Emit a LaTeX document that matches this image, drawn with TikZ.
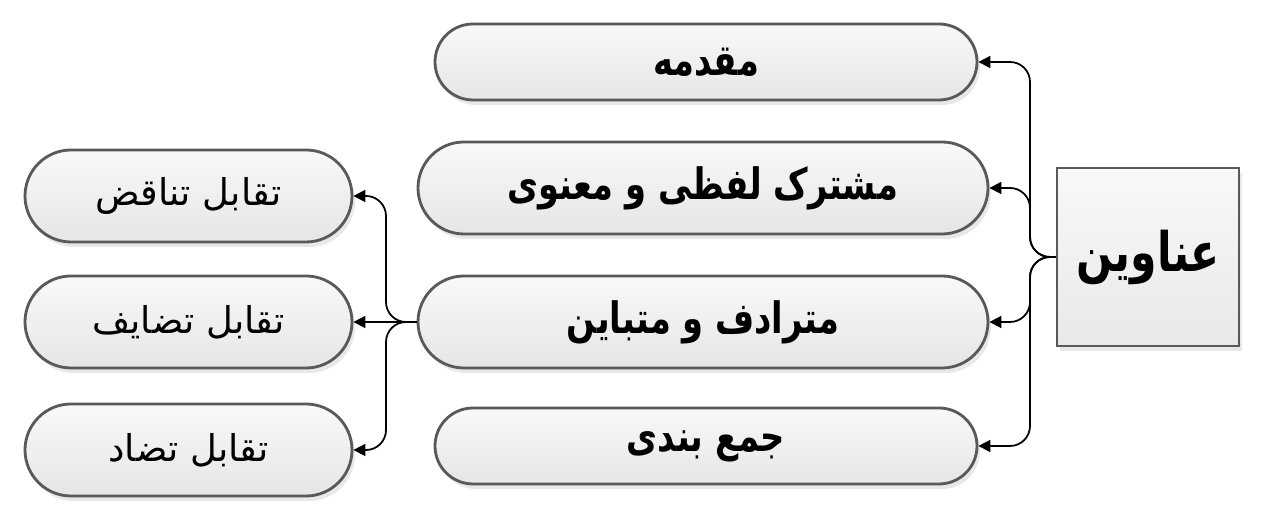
\documentclass[tikz,border=0pt]{standalone}
\usepackage{fontspec}
\newfontfamily\farsi[Script=Arabic]{DejaVu Sans}
\newfontfamily\farsib[Script=Arabic,FakeStretch=0.78]{DejaVu Sans Bold}
\TeXXeTstate=1
\usepackage{tikz}
\usetikzlibrary{positioning,shapes.misc,shadows,arrows.meta}

\tikzset{
  pill/.style={rounded rectangle,draw=black!65,line width=0.8pt,
    top color=gray!5,bottom color=gray!20,
    drop shadow={opacity=0.18,shadow xshift=0.03,shadow yshift=-0.05},
    inner sep=0pt},
  bigpill/.style={pill,minimum width=5.7cm,minimum height=0.92cm,font=\farsib\fontsize{12.3}{15}\selectfont},
  smallpill/.style={pill,minimum width=5.42cm,minimum height=0.76cm,font=\farsib\fontsize{12.3}{15}\selectfont},
  sidepill/.style={pill,minimum width=3.27cm,minimum height=0.92cm,font=\farsi\fontsize{10.5}{13}\selectfont},
  conn/.style={-{Triangle[length=1.2mm,width=1.2mm]},rounded corners=0.2cm,line width=0.5pt}
}

\begin{document}
\begin{tikzpicture}
        \useasboundingbox (0,0) rectangle (12.64,5.2);

        \node[draw=black!65,line width=0.8pt,top color=gray!5,bottom color=gray!18,
          drop shadow={opacity=0.18,shadow xshift=0.03,shadow yshift=-0.05},
          minimum width=1.82cm,minimum height=1.78cm,inner sep=0pt,
          font=\farsib\fontsize{15.5}{18}\selectfont] (titles) at (11.48,2.63) {\beginR عناوین\endR};

        \node[smallpill] (intro) at (7.06,4.58) {\beginR مقدمه\endR};
        \node[bigpill] (common) at (7.03,3.32) {\beginR مشترک لفظی و معنوی\endR};
        \node[bigpill] (synonym) at (7.03,1.98) {\beginR مترادف و متباین\endR};
        \node[smallpill] (summary) at (7.06,0.74) {\beginR جمع بندی\endR};

        \node[sidepill] (contra) at (1.885,3.24) {\beginR تقابل تناقض\endR};
        \node[sidepill] (relat) at (1.885,1.98) {\beginR تقابل تضایف\endR};
        \node[sidepill] (contrary) at (1.885,0.70) {\beginR تقابل تضاد\endR};

        %titles>main topics
        \coordinate (rtrunk) at (10.30,2.63);
        \draw[conn] (titles.west) -- (rtrunk) |- (intro.east);
        \draw[conn] (titles.west) -- (rtrunk) |- (common.east);
        \draw[conn] (titles.west) -- (rtrunk) |- (synonym.east);
        \draw[conn] (titles.west) -- (rtrunk) |- (summary.east);

        %synonym>opposition
        \coordinate (ltrunk) at (3.86,1.98);
        \draw[conn] (synonym.west) -- (ltrunk) |- (contra.east);
        \draw[conn] (synonym.west) -- (relat.east);
        \draw[conn] (synonym.west) -- (ltrunk) |- (contrary.east);
        \end{tikzpicture}
\end{document}
